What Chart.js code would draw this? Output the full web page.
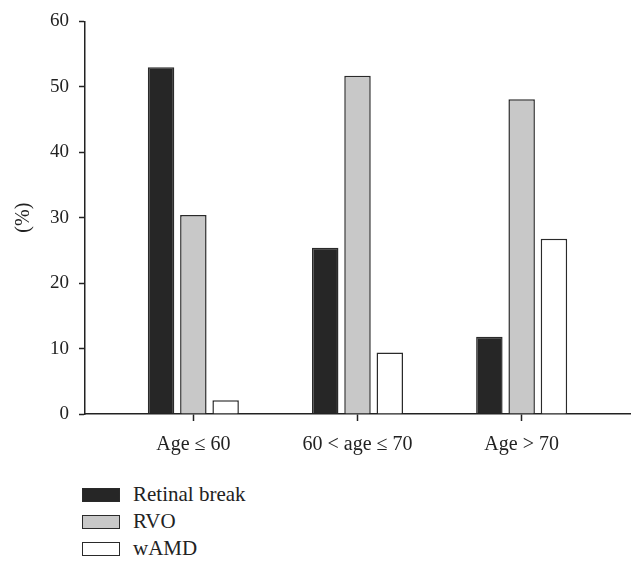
<!DOCTYPE html>
<html>
<head>
<meta charset="utf-8">
<script src="https://cdn.jsdelivr.net/npm/chart.js@4/dist/chart.umd.min.js"></script>
<style>
  body { margin: 0; background: #fff; width: 644px; height: 571px; overflow: hidden; }
  #wrap { position: relative; width: 644px; height: 470px; }
  #legend {
    position: absolute; left: 82px; top: 481px; height: 76px; overflow: hidden;
    font-family: "Liberation Serif", "DejaVu Serif", serif; font-size: 21px; color: #222;
  }
  .item { display: flex; align-items: center; height: 27px; }
  .box { width: 36px; height: 12px; border: 1.5px solid #2a2a2a; margin-right: 13px; }
</style>
</head>
<body>
<div id="wrap"><canvas id="chart" width="644" height="470"></canvas></div>
<div id="legend"></div>
<script>
// Data
const categories = ['Age \u2264 60', '60 < age \u2264 70', 'Age > 70'];
const seriesNames = ['Retinal break', 'RVO', 'wAMD'];
const retinalBreak = [53.0, 25.4, 11.8];
const rvo = [30.4, 51.7, 48.1];
const wamd = [2.1, 9.4, 26.8];
const yTicks = [0, 10, 20, 30, 40, 50, 60];

const fills = ['#262626', '#c8c8c8', '#ffffff'];
const serif = "'Liberation Serif', 'DejaVu Serif', serif";

const allSeries = [retinalBreak, rvo, wamd];

const datasets = allSeries.map((vals, k) => ({
    label: seriesNames[k],
    data: vals.map((v, i) => ({ x: i, y: v })),
    backgroundColor: fills[k],
    borderColor: '#2a2a2a',
    borderWidth: 1.5,
    categoryPercentage: 0.59,
    barPercentage: 0.82
}));

new Chart(document.getElementById('chart'), {
    type: 'bar',
    data: { datasets: datasets },
    options: {
        responsive: false,
        animation: false,
        layout: { padding: { top: 21, right: 14, left: 0, bottom: 0 } },
        plugins: {
            legend: { display: false },
            tooltip: { enabled: false }
        },
        scales: {
            x: {
                type: 'linear',
                offset: false,
                min: -0.66,
                max: 2.66,
                afterBuildTicks: scale => {
                    scale.ticks = categories.map((_, i) => ({ value: i }));
                },
                afterFit: scale => { scale.height = 56; },
                grid: { offset: false, drawOnChartArea: false, drawTicks: true, tickLength: 7, color: '#222', tickWidth: 1.5 },
                border: { display: true, color: '#222', width: 1.5 },
                ticks: {
                    padding: 12,
                    color: '#222',
                    maxRotation: 0,
                    font: { family: serif, size: 20 },
                    callback: value => categories[value]
                }
            },
            y: {
                min: 0,
                max: 60,
                afterBuildTicks: scale => {
                    scale.ticks = yTicks.map(v => ({ value: v }));
                },
                afterFit: scale => { scale.width = 85; },
                grid: { drawOnChartArea: false, drawTicks: true, tickLength: 6, color: '#222', tickWidth: 1.5 },
                border: { display: true, color: '#222', width: 1.5 },
                title: {
                    display: true,
                    text: '(%)',
                    color: '#222',
                    font: { family: serif, size: 20 },
                    padding: { top: 12, bottom: 6 }
                },
                ticks: {
                    padding: 10,
                    color: '#222',
                    font: { family: serif, size: 19 }
                }
            }
        }
    }
});

// Legend (vertical list below the chart)
const legend = document.getElementById('legend');
seriesNames.forEach((name, k) => {
    const row = document.createElement('div');
    row.className = 'item';
    const box = document.createElement('span');
    box.className = 'box';
    box.style.background = fills[k];
    const txt = document.createElement('span');
    txt.textContent = name;
    row.appendChild(box);
    row.appendChild(txt);
    legend.appendChild(row);
});
</script>
</body>
</html>
